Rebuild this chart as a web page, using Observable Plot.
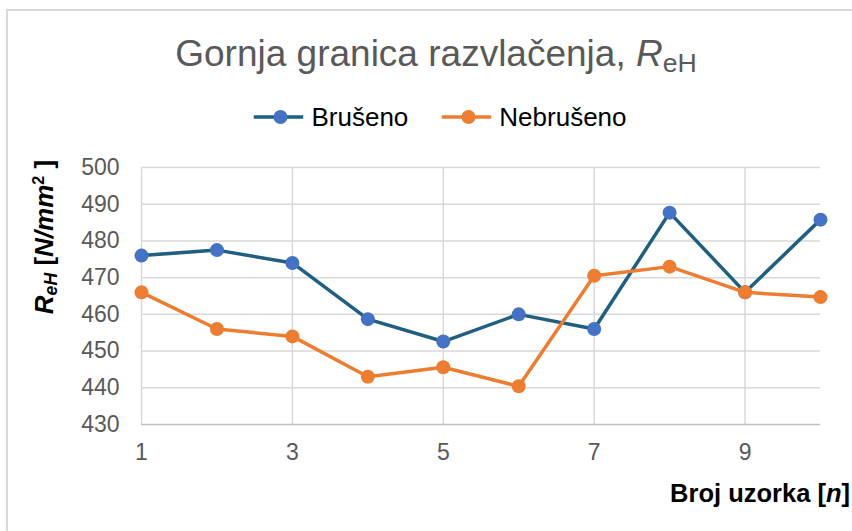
<!DOCTYPE html>
<html>
<head>
<meta charset="utf-8">
<script src="https://cdn.jsdelivr.net/npm/d3@7"></script>
<script src="https://cdn.jsdelivr.net/npm/@observablehq/plot@0.6"></script>
<style>
  body { margin: 0; background: #fff; }
  #wrap { position: relative; width: 852px; height: 531px; overflow: hidden; font-family: "Liberation Sans", Arial, sans-serif; background:#fff; }
  #frame { position: absolute; left: 6px; top: 9px; width: 900px; height: 600px; border-left: 2px solid #d9d9d9; border-top: 2px solid #d9d9d9; }
  #chart { position: absolute; left: 0; top: 0; }
  #title { position: absolute; left: 436px; top: 35px; transform: translateX(-50%); font-size: 37px; line-height: 37px; color: #595959; white-space: nowrap; }
  #title sub { font-size: 0.72em; vertical-align: -0.22em; line-height: 0; }
  #legend { position: absolute; left: 440px; top: 104px; transform: translateX(-50%); display: flex; align-items: center; font-size: 26px; line-height: 26px; color: #000; white-space: nowrap; }
  #legend .item { display: flex; align-items: center; }
  #legend .item + .item { margin-left: 33px; }
  #legend svg { margin-right: 8px; }
  #ylab { position: absolute; left: 44px; top: 237px; transform: translate(-50%, -50%) rotate(-90deg); font-size: 26px; font-weight: bold; color: #000; white-space: nowrap; line-height: 26px; }
  #ylab sub { font-size: 0.68em; vertical-align: -0.25em; line-height: 0; }
  #ylab sup { font-size: 0.62em; vertical-align: 0.55em; line-height: 0; }
  #xlab { position: absolute; right: 2px; top: 481px; font-size: 25.5px; font-weight: bold; color: #000; white-space: nowrap; line-height: 25px; }
</style>
</head>
<body>
<div id="wrap">
  <div id="frame"></div>
  <div id="chart"></div>
  <div id="title">Gornja granica razvlačenja, <i>R</i><sub>eH</sub></div>
  <div id="legend"></div>
  <div id="ylab"><i>R<sub>eH</sub></i> [<i>N/mm</i><sup>2</sup> ]</div>
  <div id="xlab">Broj uzorka [<i>n</i>]</div>
</div>
<script>
// Data
const samples = [1, 2, 3, 4, 5, 6, 7, 8, 9, 10];
const brusheno = [476, 477.5, 474, 458.7, 452.6, 460, 456, 487.7, 466, 485.8];
const nebrusheno = [466, 456, 454, 443, 445.6, 440.4, 470.5, 473, 466, 464.7];
const seriesNames = ["Brušeno", "Nebrušeno"];
const xTicks = [1, 3, 5, 7, 9];
const yTicks = [430, 440, 450, 460, 470, 480, 490, 500];

const lineColors = ["#1f5f80", "#ed7d31"];
const dotColors = ["#4472c4", "#ed7d31"];
const seriesValues = [brusheno, nebrusheno];

const marks = [
  Plot.ruleY(yTicks.filter(d => d > 430), {y: d => d, stroke: "#d9d9d9", strokeWidth: 1.5}),
  Plot.ruleX(xTicks, {x: d => d, stroke: "#d9d9d9", strokeWidth: 1.5}),
  Plot.ruleY([430], {y: d => d, stroke: "#bfbfbf", strokeWidth: 1.5})
];
seriesValues.forEach((vals, k) => {
  const rows = samples.map((n, i) => ({n, v: vals[i], s: seriesNames[k]}));
  marks.push(Plot.line(rows, {x: "n", y: "v", stroke: lineColors[k], strokeWidth: 3.5}));
  marks.push(Plot.dot(rows, {x: "n", y: "v", r: 7, fill: dotColors[k], stroke: "none"}));
});

const chart = Plot.plot({
  width: 852,
  height: 531,
  marginTop: 167,
  marginBottom: 107,
  marginLeft: 141,
  marginRight: 32,
  style: {fontFamily: "'Liberation Sans', Arial, sans-serif", fontSize: "23px", color: "#595959", background: "transparent", overflow: "visible"},
  x: {domain: [1, 10], ticks: xTicks, tickSize: 0, tickPadding: 19, label: null},
  y: {domain: [430, 500], ticks: yTicks, tickSize: 0, tickPadding: 22, label: null},
  marks
});
document.getElementById("chart").appendChild(chart);

// Legend
const legend = document.getElementById("legend");
seriesNames.forEach((name, k) => {
  const item = document.createElement("div");
  item.className = "item";
  item.innerHTML = `<svg width="50" height="16"><line x1="0" y1="8" x2="50" y2="8" stroke="${lineColors[k]}" stroke-width="3.5"/><circle cx="27" cy="8" r="7" fill="${dotColors[k]}"/></svg><span>${name}</span>`;
  legend.appendChild(item);
});
</script>
</body>
</html>
